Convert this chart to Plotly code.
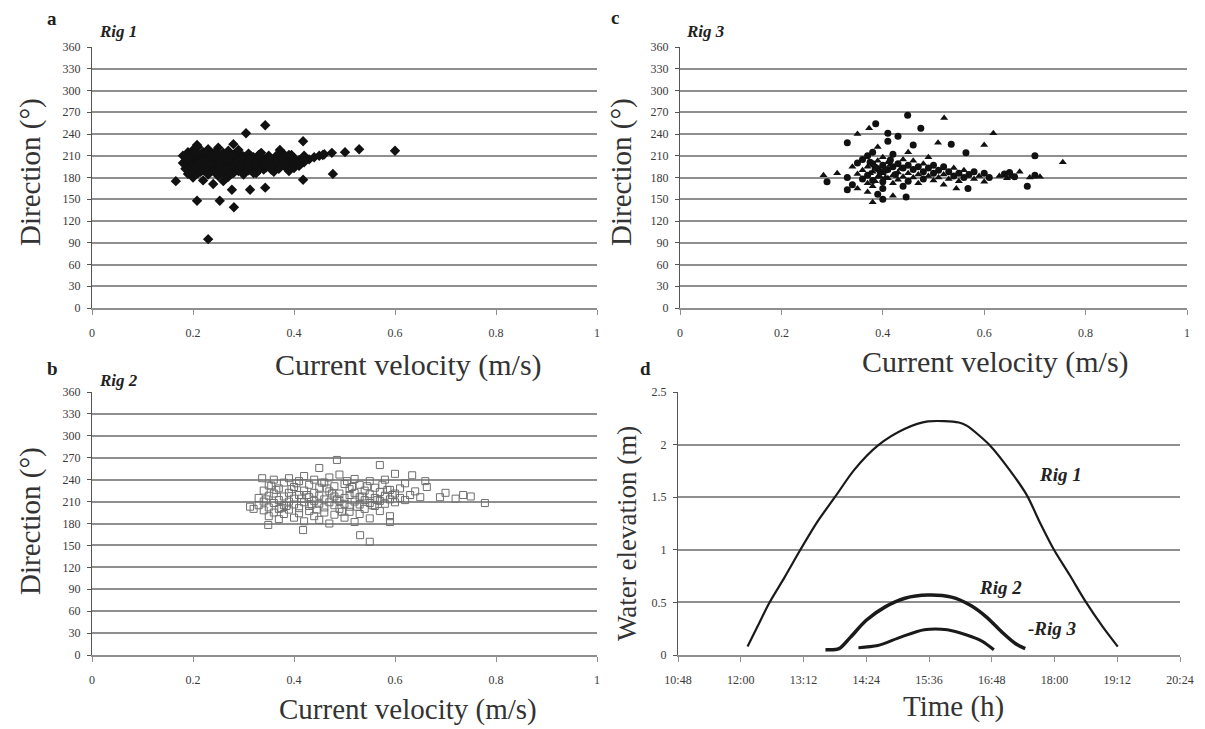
import plotly.graph_objects as go

# ---------------- data ----------------
# Panel a (Rig 1): current velocity (m/s) vs direction (deg)
rig1_vel = [0.18, 0.18, 0.19, 0.19, 0.19, 0.19, 0.20, 0.20, 0.20, 0.20, 0.20, 0.21, 0.21, 0.21, 0.21, 0.21,
            0.22, 0.22, 0.22, 0.22, 0.22, 0.23, 0.23, 0.23, 0.23, 0.23, 0.24, 0.24, 0.24, 0.24, 0.24,
            0.25, 0.25, 0.25, 0.25, 0.25, 0.26, 0.26, 0.26, 0.26, 0.26, 0.27, 0.27, 0.27, 0.27, 0.27,
            0.28, 0.28, 0.28, 0.28, 0.28, 0.29, 0.29, 0.29, 0.29, 0.30, 0.30, 0.30, 0.30, 0.31, 0.31,
            0.31, 0.31, 0.32, 0.32, 0.32, 0.32, 0.33, 0.33, 0.33, 0.34, 0.34, 0.34, 0.35, 0.35, 0.35,
            0.36, 0.36, 0.36, 0.37, 0.37, 0.37, 0.38, 0.38, 0.38, 0.39, 0.39, 0.39, 0.40, 0.40, 0.40,
            0.41, 0.41, 0.42, 0.42, 0.43, 0.44, 0.45, 0.46,
            0.185, 0.195, 0.205, 0.215, 0.225, 0.235, 0.245, 0.255, 0.265, 0.275, 0.285, 0.295,
            0.305, 0.315, 0.325, 0.345, 0.355, 0.365, 0.375, 0.385, 0.395, 0.405,
            0.185, 0.195, 0.205, 0.215, 0.225, 0.235, 0.245, 0.255, 0.265, 0.275, 0.285, 0.295,
            0.305, 0.315, 0.325, 0.335, 0.345, 0.355, 0.365, 0.375, 0.385, 0.395,
            0.19, 0.21, 0.23, 0.25, 0.27, 0.29, 0.31, 0.33, 0.35, 0.37, 0.39, 0.41,
            0.343, 0.305, 0.418, 0.208, 0.529, 0.501, 0.600, 0.477, 0.166, 0.208, 0.253, 0.281,
            0.230, 0.313, 0.277, 0.343, 0.418, 0.457, 0.475, 0.372]
rig1_dir = [200, 210, 195, 205, 185, 215, 190, 200, 208, 218, 180, 195, 203, 212, 186, 222,
            198, 207, 190, 215, 176, 201, 194, 210, 184, 219, 197, 205, 189, 213, 171,
            200, 192, 208, 182, 221, 196, 204, 187, 214, 175, 199, 207, 191, 217, 181,
            202, 195, 211, 186, 226, 198, 206, 189, 215, 201, 193, 209, 184, 197, 205,
            213, 190, 200, 194, 208, 186, 203, 196, 211, 199, 206, 191, 202, 195, 210,
            198, 205, 188, 201, 207, 194, 199, 206, 212, 196, 203, 189, 200, 207, 193,
            204, 196, 201, 210, 205, 208, 210, 212,
            192, 212, 197, 188, 205, 199, 216, 204, 193, 210, 200, 196,
            204, 201, 197, 203, 199, 210, 197, 202, 208, 198,
            203, 186, 214, 202, 194, 209, 189, 198, 206, 185, 214, 205,
            191, 209, 186, 214, 194, 191, 203, 206, 193, 211,
            207, 199, 216, 191, 203, 218, 196, 190, 207, 192, 211, 199,
            252, 241, 230, 225, 219, 215, 217, 185, 175, 148, 148, 139,
            95, 163, 163, 166, 177, 211, 214, 218]

# Panel b (Rig 2)
rig2_vel = [0.33, 0.33, 0.34, 0.34, 0.34, 0.35, 0.35, 0.35, 0.35, 0.36, 0.36, 0.36, 0.36, 0.37, 0.37,
            0.37, 0.37, 0.38, 0.38, 0.38, 0.38, 0.39, 0.39, 0.39, 0.39, 0.40, 0.40, 0.40, 0.40, 0.41,
            0.41, 0.41, 0.41, 0.42, 0.42, 0.42, 0.42, 0.43, 0.43, 0.43, 0.43, 0.44, 0.44, 0.44, 0.44,
            0.45, 0.45, 0.45, 0.45, 0.46, 0.46, 0.46, 0.46, 0.47, 0.47, 0.47, 0.47, 0.48, 0.48, 0.48,
            0.48, 0.49, 0.49, 0.49, 0.49, 0.50, 0.50, 0.50, 0.50, 0.51, 0.51, 0.51, 0.51, 0.52, 0.52,
            0.52, 0.52, 0.53, 0.53, 0.53, 0.53, 0.54, 0.54, 0.54, 0.55, 0.55, 0.55, 0.55, 0.56, 0.56,
            0.56, 0.57, 0.57, 0.57, 0.58, 0.58, 0.58, 0.59, 0.59, 0.59, 0.60, 0.60, 0.61, 0.61, 0.62,
            0.63, 0.64, 0.65,
            0.345, 0.365, 0.385, 0.405, 0.425, 0.445, 0.465, 0.485, 0.505, 0.525, 0.545, 0.565, 0.585,
            0.355, 0.375, 0.395, 0.415, 0.435, 0.455, 0.475, 0.495, 0.515, 0.535, 0.555, 0.575, 0.595,
            0.320, 0.313, 0.337, 0.349, 0.418, 0.485, 0.570, 0.634, 0.663, 0.689, 0.735, 0.778,
            0.531, 0.550, 0.590, 0.750, 0.720, 0.700, 0.660, 0.450, 0.600, 0.620]
rig2_dir = [205, 215, 198, 210, 225, 202, 218, 232, 190, 208, 221, 240, 195, 212, 200,
            228, 186, 205, 217, 236, 193, 210, 222, 199, 242, 206, 214, 230, 188, 201,
            219, 238, 194, 209, 225, 183, 245, 204, 216, 233, 197, 211, 222, 190, 240,
            207, 218, 229, 185, 202, 213, 236, 195, 209, 224, 243, 180, 205, 217, 231,
            192, 211, 221, 200, 247, 207, 215, 234, 188, 203, 219, 227, 196, 210, 222,
            241, 182, 206, 216, 233, 193, 212, 225, 200, 208, 220, 238, 187, 204, 215,
            229, 211, 223, 197, 207, 218, 240, 213, 226, 190, 209, 221, 215, 228, 212,
            219, 224, 216,
            213, 226, 204, 235, 219, 199, 228, 213, 238, 203, 231, 212, 226,
            232, 201, 227, 214, 206, 236, 221, 196, 230, 217, 205, 233, 219,
            200, 203, 242, 178, 171, 267, 260, 246, 230, 216, 219, 208,
            164, 155, 182, 217, 214, 222, 238, 256, 248, 235]

# Panel c (Rig 3)
rig3_vel = [0.33, 0.34, 0.34, 0.35, 0.35, 0.35, 0.36, 0.36, 0.36, 0.37, 0.37, 0.37, 0.37, 0.37,
            0.38, 0.38, 0.38, 0.38, 0.38, 0.39, 0.39, 0.39, 0.39, 0.39, 0.40, 0.40, 0.40, 0.40, 0.40,
            0.41, 0.41, 0.41, 0.41, 0.42, 0.42, 0.42, 0.42, 0.43, 0.43, 0.43, 0.43, 0.44, 0.44, 0.44,
            0.44, 0.45, 0.45, 0.45, 0.45, 0.46, 0.46, 0.46, 0.46, 0.47, 0.47, 0.47, 0.48, 0.48, 0.48,
            0.49, 0.49, 0.49, 0.50, 0.50, 0.50, 0.51, 0.51, 0.52, 0.52, 0.52, 0.53, 0.53, 0.54, 0.54,
            0.55, 0.55, 0.56, 0.56, 0.57, 0.58, 0.58, 0.59, 0.60, 0.60, 0.61,
            0.375, 0.385, 0.395, 0.405, 0.415, 0.425, 0.435, 0.375, 0.385, 0.395, 0.405, 0.415,
            0.630, 0.640, 0.645, 0.650, 0.655, 0.660, 0.670, 0.685, 0.690, 0.700, 0.710, 0.700, 0.755,
            0.449, 0.521, 0.386, 0.373, 0.475, 0.350, 0.410, 0.618, 0.330, 0.509, 0.535, 0.600,
            0.564, 0.283, 0.290, 0.310, 0.330, 0.380, 0.446, 0.545, 0.568, 0.653, 0.400, 0.420]
rig3_dir = [180, 195, 170, 185, 200, 165, 178, 190, 205, 172, 183, 195, 210, 160,
            176, 188, 199, 168, 215, 181, 192, 203, 157, 222, 174, 186, 197, 208, 165,
            179, 191, 201, 230, 183, 195, 172, 212, 187, 199, 177, 237, 181, 193, 205,
            168, 186, 197, 215, 175, 180, 191, 203, 225, 184, 195, 172, 188, 199, 178,
            182, 193, 208, 186, 176, 197, 180, 190, 184, 195, 170, 188, 178, 182, 193,
            186, 175, 180, 190, 184, 178, 188, 182, 186, 174, 180,
            186, 194, 181, 190, 198, 184, 192, 201, 175, 188, 180, 204,
            182, 185, 179, 187, 183, 181, 188, 168, 180, 183, 181, 210, 201,
            266, 262, 254, 248, 248, 240, 241, 241, 228, 228, 226, 225,
            214, 183, 174, 186, 163, 146, 153, 165, 165, 181, 150, 155]

# Panel d: water elevation (m) vs time (h)
time_ticks = ["10:48", "12:00", "13:12", "14:24", "15:36", "16:48", "18:00", "19:12", "20:24"]
rig1_t = [12.13, 12.32, 12.54, 12.84, 13.14, 13.47, 13.80, 14.17, 14.62, 15.14, 15.58,
          16.17, 16.32, 16.77, 17.14, 17.47, 17.73, 17.99, 18.29, 18.58, 18.92, 19.21]
rig1_h = [0.08, 0.27, 0.49, 0.74, 1.00, 1.27, 1.50, 1.76, 1.99, 2.15, 2.22,
          2.21, 2.18, 1.99, 1.76, 1.52, 1.25, 1.00, 0.76, 0.52, 0.27, 0.08]
rig2_t = [13.62, 13.88, 14.10, 14.40, 14.77, 15.14, 15.58, 16.03, 16.40, 16.70, 16.99, 17.25, 17.44]
rig2_h = [0.05, 0.06, 0.17, 0.33, 0.46, 0.54, 0.57, 0.55, 0.47, 0.36, 0.22, 0.11, 0.06]
rig3_t = [14.25, 14.62, 15.06, 15.51, 15.95, 16.32, 16.62, 16.84]
rig3_h = [0.07, 0.09, 0.17, 0.24, 0.24, 0.19, 0.13, 0.05]

dir_ticks = [0, 30, 60, 90, 120, 150, 180, 210, 240, 270, 300, 330, 360]
vel_ticks = [0, 0.2, 0.4, 0.6, 0.8, 1]
vel_labels = ["0", "0.2", "0.4", "0.6", "0.8", "1"]
elev_ticks = [0, 0.5, 1, 1.5, 2, 2.5]
elev_labels = ["0", "0.5", "1", "1.5", "2", "2.5"]

# ---------------- figure ----------------
W, H = 1205, 729
OFF = 8  # the page places the figure 8 px in from the top-left corner
SERIF = "Liberation Serif"
GRID = "#8f8f8f"


def px(x):
    return (x - OFF) / W


def py(y):
    return 1 - (y - OFF) / H


def hours(s):
    h, m = s.split(":")
    return int(h) + int(m) / 60.0


fig = go.Figure()

fig.add_trace(go.Scatter(x=rig1_vel, y=rig1_dir, mode="markers", xaxis="x", yaxis="y",
                         marker=dict(symbol="diamond", size=8, color="#111111"), showlegend=False))
fig.add_trace(go.Scatter(x=rig3_vel, y=rig3_dir, mode="markers", xaxis="x2", yaxis="y2",
                         marker=dict(symbol=["triangle-up" if i % 2 else "circle" for i in range(len(rig3_vel))],
                                     size=7, color="#111111"), showlegend=False))
fig.add_trace(go.Scatter(x=rig2_vel, y=rig2_dir, mode="markers", xaxis="x3", yaxis="y3",
                         marker=dict(symbol="square-open", size=7, color="#6f6f6f", line=dict(width=1)),
                         showlegend=False))
fig.add_trace(go.Scatter(x=rig1_t, y=rig1_h, mode="lines", xaxis="x4", yaxis="y4",
                         line=dict(color="#1a1a1a", width=2.2, shape="spline", smoothing=0.8), showlegend=False))
fig.add_trace(go.Scatter(x=rig2_t, y=rig2_h, mode="lines", xaxis="x4", yaxis="y4",
                         line=dict(color="#1a1a1a", width=3.5, shape="spline", smoothing=0.8), showlegend=False))
fig.add_trace(go.Scatter(x=rig3_t, y=rig3_h, mode="lines", xaxis="x4", yaxis="y4",
                         line=dict(color="#1a1a1a", width=3, shape="spline", smoothing=0.8), showlegend=False))

tickfont = dict(family=SERIF, size=12, color="#3a3a3a")


def xax(domain, anchor, rng, tickvals, ticktext):
    return dict(domain=domain, anchor=anchor, range=rng, tickvals=tickvals, ticktext=ticktext,
                showgrid=False, zeroline=False, showline=True, linecolor=GRID, linewidth=1.5,
                ticks="outside", ticklen=5, tickcolor=GRID, tickfont=tickfont, ticklabelstandoff=8,
                automargin=False, fixedrange=True)


def yax(domain, anchor, rng, tickvals, ticktext=None):
    d = dict(domain=domain, anchor=anchor, range=rng, tickvals=tickvals,
             showgrid=True, gridcolor=GRID, gridwidth=1.5, zeroline=False,
             showline=True, linecolor="#555555", linewidth=1, ticks="outside", ticklen=4,
             tickcolor="#555555", tickfont=tickfont, ticklabelstandoff=4,
             automargin=False, fixedrange=True)
    if ticktext is not None:
        d["ticktext"] = ticktext
    return d


dom_top = [py(308), py(47)]
dom_bot = [py(655), py(392)]
dom_left = [px(92), px(597)]
dom_right = [px(680), px(1187)]
dom_d = [px(678), px(1180)]

t_vals = [hours(s) for s in time_ticks]

fig.update_layout(
    template="none",
    width=W, height=H, autosize=False,
    margin=dict(l=0, r=0, t=0, b=0, pad=0),
    paper_bgcolor="white", plot_bgcolor="white",
    xaxis=xax(dom_left, "y", [0, 1], vel_ticks, vel_labels),
    yaxis=yax(dom_top, "x", [0, 360], dir_ticks),
    xaxis2=xax(dom_right, "y2", [0, 1], vel_ticks, vel_labels),
    yaxis2=yax(dom_top, "x2", [0, 360], dir_ticks),
    xaxis3=xax(dom_left, "y3", [0, 1], vel_ticks, vel_labels),
    yaxis3=yax(dom_bot, "x3", [0, 360], dir_ticks),
    xaxis4=xax(dom_d, "y4", [t_vals[0], t_vals[-1]], t_vals, time_ticks),
    yaxis4=yax(dom_bot, "x4", [0, 2.5], elev_ticks, elev_labels),
)

ann = []


def text(x, y, s, size, angle=0, bold=False, italic=False, color="#222222"):
    s2 = s
    if bold:
        s2 = "<b>" + s2 + "</b>"
    if italic:
        s2 = "<i>" + s2 + "</i>"
    ann.append(dict(x=px(x), y=py(y), xref="paper", yref="paper", text=s2, showarrow=False,
                    textangle=angle, xanchor="center", yanchor="middle",
                    font=dict(family=SERIF, size=size, color=color)))


# panel letters and rig labels
text(52, 18, "a", 19, bold=True)
text(118, 31, "Rig 1", 17, bold=True, italic=True)
text(615, 17, "c", 19, bold=True)
text(705, 31, "Rig 3", 17, bold=True, italic=True)
text(52, 368, "b", 19, bold=True)
text(118, 380, "Rig 2", 17, bold=True, italic=True)
text(645, 368, "d", 19, bold=True)

# axis titles
text(408, 365, "Current velocity (m/s)", 30, color="#333333")
text(995, 362, "Current velocity (m/s)", 30, color="#333333")
text(408, 709, "Current velocity (m/s)", 29, color="#333333")
text(953, 706, "Time (h)", 29, color="#333333")
text(30, 172, "Direction (°)", 29, angle=-90, color="#333333")
text(621, 172, "Direction (°)", 29, angle=-90, color="#333333")
text(30, 521, "Direction (°)", 29, angle=-90, color="#333333")
text(627, 533, "Water elevation (m)", 27, angle=-90, color="#333333")

# curve labels in panel d
text(1060, 474, "Rig 1", 19, bold=True, italic=True)
text(1000, 587, "Rig 2", 19, bold=True, italic=True)
text(1052, 628, "-Rig 3", 19, bold=True, italic=True)

fig.update_layout(annotations=ann)

fig.write_html("out.html")
